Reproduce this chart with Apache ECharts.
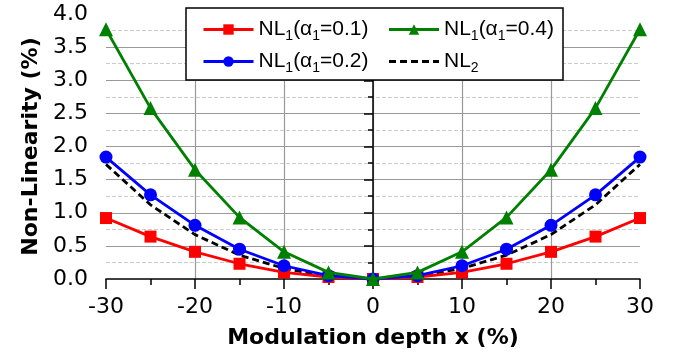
<!DOCTYPE html>
<html><head><meta charset="utf-8">
<script src="https://cdn.jsdelivr.net/npm/echarts@6/dist/echarts.min.js"></script>
<style>html,body{margin:0;padding:0;background:#fff}#c{width:676px;height:362px}</style>
</head><body><div id="c"></div>
<script>
const xValues = [-30,-25,-20,-15,-10,-5,0,5,10,15,20,25,30];
const nl1a01 = [0.92,0.64,0.41,0.23,0.10,0.03,0,0.03,0.10,0.23,0.41,0.64,0.92];
const nl1a02 = [1.84,1.27,0.81,0.45,0.20,0.05,0,0.05,0.20,0.45,0.81,1.27,1.84];
const nl1a04 = [3.77,2.58,1.65,0.93,0.41,0.10,0,0.10,0.41,0.93,1.65,2.58,3.77];
const nl2 = [1.73,1.12,0.67,0.36,0.16,0.04,0,0.04,0.16,0.36,0.67,1.12,1.73];
const legendRow1 = ['a01','a04'];
const legendRow2 = ['a02','nl2'];
const legendLabels = {
  a01: '{t|NL}{s|1}{t|(α}{s|1}{t|=0.1)}',
  a02: '{t|NL}{s|1}{t|(α}{s|1}{t|=0.2)}',
  a04: '{t|NL}{s|1}{t|(α}{s|1}{t|=0.4)}',
  nl2: '{t|NL}{s|2}'
};
const pair = arr => xValues.map((x,i)=>[x,arr[i]]);
const font = 'Liberation Sans, Arial, sans-serif';
const axFont = 'DejaVu Sans, sans-serif';
const richText = {
  t:{fontFamily:font,fontSize:21,color:'#000'},
  s:{fontFamily:font,fontSize:14,color:'#000',verticalAlign:'bottom',padding:[13,0,0,0]}
};
const toItems = arr => arr.map(n => n === 'nl2'
  ? {name:n, itemStyle:{color:'rgba(0,0,0,0)',borderWidth:0}} : {name:n});
const chart = echarts.init(document.getElementById('c'));
chart.setOption({
  animation:false,
  grid:{left:106,right:36,top:14,bottom:83},
  graphic:[{type:'rect',z:9,shape:{x:186,y:8,width:377,height:72},
    style:{fill:'#fff',stroke:'#000',lineWidth:1.5}}],
  legend:[
    {id:'lg1', data:toItems(legendRow1), left:202, top:19, orient:'horizontal',
     itemWidth:50, itemHeight:13, itemGap:19, padding:0, z:10,
     lineStyle:{width:3},
     formatter: n => legendLabels[n], textStyle:{rich:richText}},
    {id:'lg2', data:toItems(legendRow2), left:202, top:51, orient:'horizontal',
     itemWidth:50, itemHeight:13, itemGap:19, padding:0, z:10,
     lineStyle:{width:3},
     formatter: n => legendLabels[n], textStyle:{rich:richText}}
  ],
  xAxis:{
    type:'value', min:-30, max:30, interval:10,
    name:'Modulation depth x (%)', nameLocation:'middle', nameGap:48,
    nameTextStyle:{fontFamily:axFont,fontSize:22,fontWeight:'bold',color:'#000'},
    axisLine:{onZero:false,lineStyle:{color:'#000',width:1.5}},
    axisTick:{show:true,inside:false,length:10,lineStyle:{color:'#000',width:1.5}},
    minorTick:{show:true,splitNumber:2,length:6,lineStyle:{color:'#000',width:1.5}},
    axisLabel:{fontFamily:axFont,fontSize:22,color:'#000',margin:17},
    splitLine:{show:true,showMinLine:false,showMaxLine:false,lineStyle:{color:'#999',width:1.2}}
  },
  yAxis:{
    type:'value', min:0, max:4, interval:0.5,
    name:'Non-Linearity (%)', nameLocation:'middle', nameGap:64,
    nameTextStyle:{fontFamily:axFont,fontSize:22,fontWeight:'bold',color:'#000'},
    axisLine:{show:true,lineStyle:{color:'#000',width:1.5}},
    axisTick:{show:true,length:9,lineStyle:{color:'#000',width:1.5}},
    minorTick:{show:true,splitNumber:2,length:5,lineStyle:{color:'#000',width:1.5}},
    axisLabel:{fontFamily:axFont,fontSize:22,color:'#000',margin:18,formatter:v=>v.toFixed(1)},
    splitLine:{show:true,showMinLine:false,showMaxLine:false,lineStyle:{color:'#999',width:1.2}},
    minorSplitLine:{show:true,lineStyle:{color:'#ccc',type:'dashed',width:1}}
  },
  series:[
    {name:'nl2',type:'line',data:pair(nl2),showSymbol:false,symbol:'none',z:2,
     lineStyle:{color:'#000',width:2.8,type:[7,4]},itemStyle:{color:'#000'}},
    {name:'a01',type:'line',data:pair(nl1a01),symbol:'rect',symbolSize:12,z:3,
     lineStyle:{color:'#ff0000',width:2.8},itemStyle:{color:'#ff0000'}},
    {name:'a02',type:'line',data:pair(nl1a02),symbol:'circle',symbolSize:13,z:4,
     lineStyle:{color:'#0000ff',width:2.8},itemStyle:{color:'#0000ff'}},
    {name:'a04',type:'line',data:pair(nl1a04),symbol:'triangle',symbolSize:14,z:5,
     lineStyle:{color:'#008000',width:2.8},itemStyle:{color:'#008000'}}
  ]
});
</script></body></html>
